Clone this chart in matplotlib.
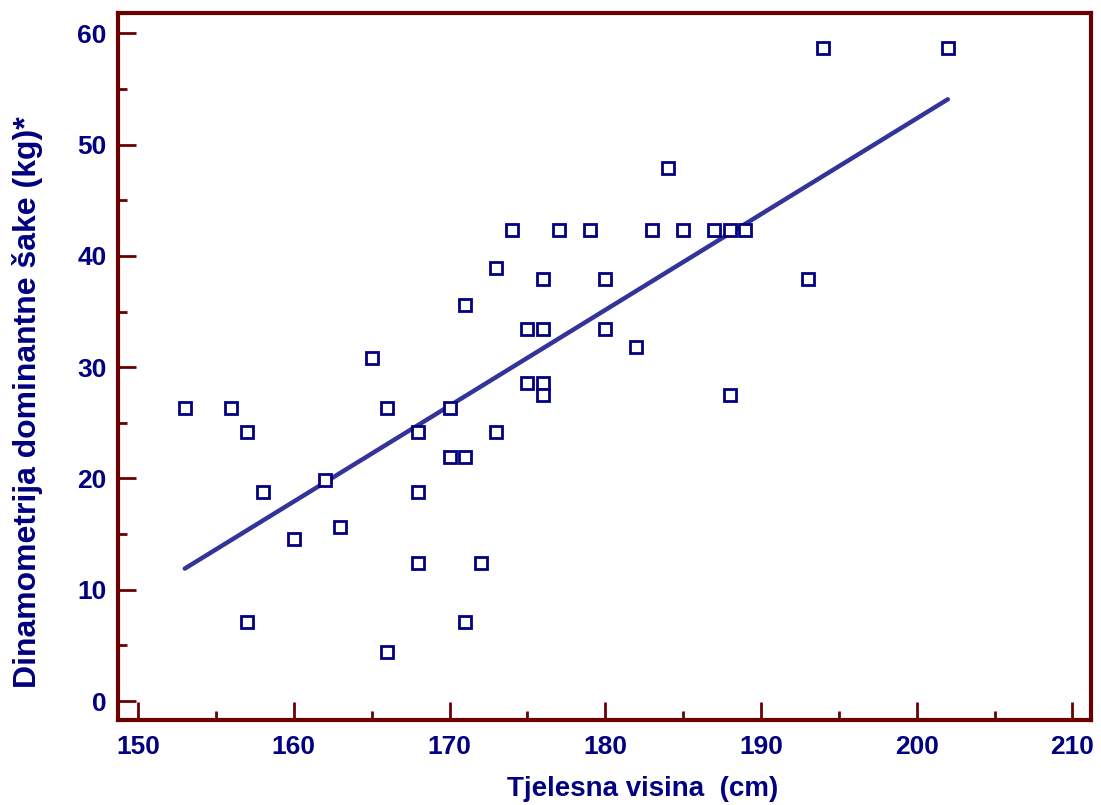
import numpy as np
import matplotlib
matplotlib.use("Agg")
import matplotlib.pyplot as plt
from matplotlib.ticker import MultipleLocator

# visina (cm) i dinamometrija dominantne šake (kg)
visina = [153, 156, 157, 157, 158, 160, 162, 163, 165, 166, 166, 168, 168, 168,
          170, 170, 171, 171, 171, 172, 173, 173, 174, 175, 175, 176, 176, 176,
          176, 177, 179, 180, 180, 182, 183, 184, 185, 187, 188, 188, 189, 193,
          194, 202]
snaga = [26.3, 26.3, 24.2, 7.1, 18.8, 14.6, 19.9, 15.6, 30.8, 26.3, 4.4, 24.2,
         18.8, 12.4, 26.3, 21.9, 21.9, 35.6, 7.1, 12.4, 38.9, 24.2, 42.3, 33.4,
         28.6, 37.9, 33.4, 28.6, 27.5, 42.3, 42.3, 37.9, 33.4, 31.8, 42.3, 47.9,
         42.3, 42.3, 42.3, 27.5, 42.3, 37.9, 58.7, 58.7]

x_ticks = [150, 160, 170, 180, 190, 200, 210]
y_ticks = [0, 10, 20, 30, 40, 50, 60]

okvir = '#6b0000'
plava = '#000080'

plt.rcParams['font.family'] = ['Liberation Sans', 'DejaVu Sans']

fig = plt.figure(figsize=(11.01, 8.05), dpi=100)
ax = fig.add_axes([0.107, 0.1056, 0.884, 0.878])

x = np.array(visina)
y = np.array(snaga)
k, b = np.polyfit(x, y, 1)
xl = np.array([x.min(), x.max()])
ax.plot(xl, k * xl + b, color='#333399', lw=3.2, solid_capstyle='round', zorder=2)

ax.plot(x, y, 's', ms=9, mfc='white', mec=plava, mew=2.0, zorder=3)

ax.set_xlim(148.7, 211.2)
ax.set_ylim(-1.7, 61.8)
ax.set_xticks(x_ticks)
ax.set_yticks(y_ticks)
ax.xaxis.set_minor_locator(MultipleLocator(5))
ax.yaxis.set_minor_locator(MultipleLocator(5))

for s in ax.spines.values():
    s.set_color(okvir)
    s.set_linewidth(3)

ax.tick_params(which='both', direction='in', color=okvir, width=2,
               top=False, right=False)
ax.tick_params(which='major', length=13)
ax.tick_params(which='minor', length=6.5)
ax.tick_params(axis='x', which='major', pad=11)
ax.tick_params(axis='y', which='major', pad=8)
for lab in ax.get_xticklabels() + ax.get_yticklabels():
    lab.set_fontsize(19)
    lab.set_fontweight('bold')
    lab.set_color(plava)

ax.set_xlabel('Tjelesna visina  (cm)', fontsize=20, fontweight='bold',
              color=plava)
ax.xaxis.set_label_coords(0.5396, -0.079)
ax.set_ylabel('Dinamometrija dominantne šake (kg)*', fontsize=23,
              fontweight='bold', color=plava)
ax.yaxis.set_label_coords(-0.077, 0.45)

fig.savefig('out.png', dpi=100)
